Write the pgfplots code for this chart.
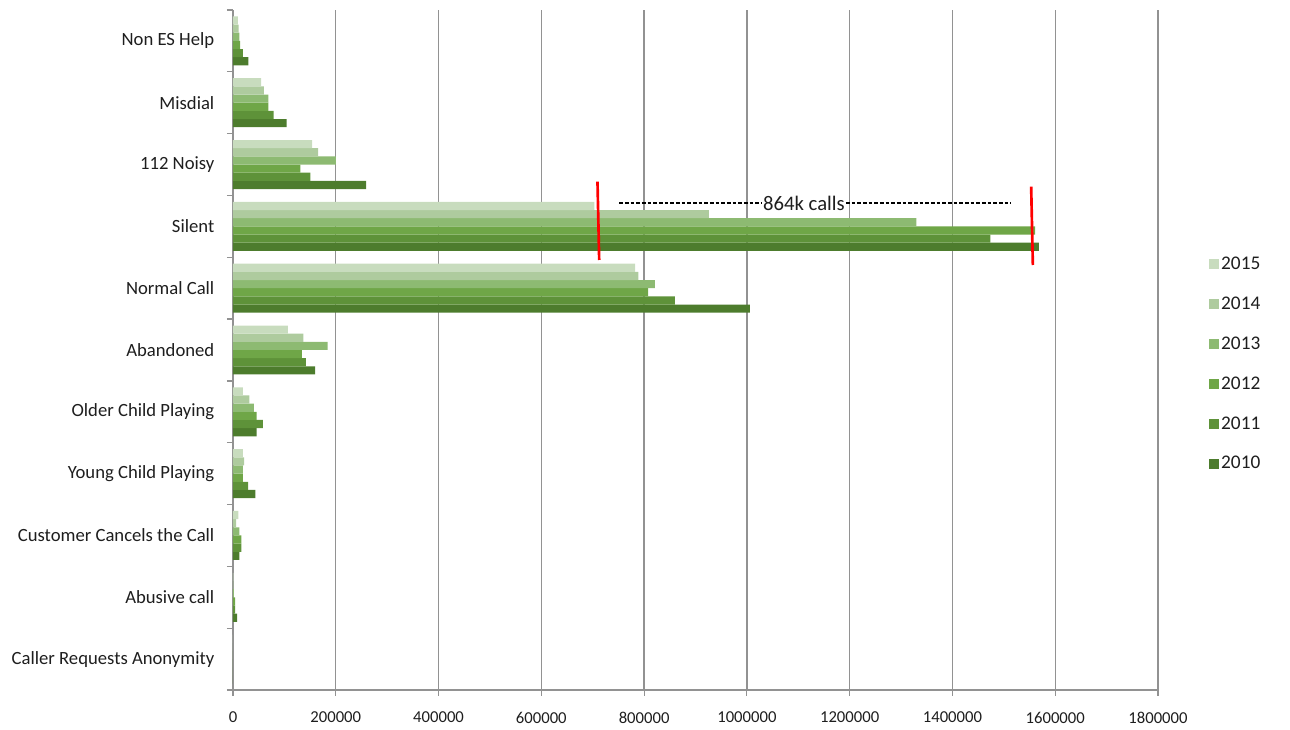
\documentclass[border=0pt]{standalone}
\usepackage{fontspec}
\setmainfont{Carlito}
\usepackage{pgfplots}
\pgfplotsset{compat=1.18}
\definecolor{c2015}{HTML}{C8DCBE}
\definecolor{c2014}{HTML}{AECB9E}
\definecolor{c2013}{HTML}{8DBA72}
\definecolor{c2012}{HTML}{6FA647}
\definecolor{c2011}{HTML}{5E9239}
\definecolor{c2010}{HTML}{4D7C2D}
\definecolor{gridgray}{HTML}{929292}
\definecolor{txt}{HTML}{1E1E1E}
\begin{document}
\begin{tikzpicture}
\useasboundingbox (-174.75pt,-29.25pt) rectangle (792.75pt,517.5pt);
\begin{axis}[
  at={(0pt,0pt)}, anchor=south west,
  scale only axis, width=693.75pt, height=510pt,
  xbar, bar width=0.132,
  legend image code/.code={\fill[#1] (0pt,-3.75pt) rectangle (7.5pt,3.75pt);},
  xmin=0, xmax=1800000, ymin=-0.5, ymax=10.5,
  xtick={0,200000,400000,600000,800000,1000000,1200000,1400000,1600000,1800000},
  scaled x ticks=false,
  xticklabel style={/pgf/number format/fixed, /pgf/number format/1000 sep={}, /pgf/number format/assume math mode=true, font=\fontsize{12.5}{14}\selectfont, text=txt, yshift=-8.5pt},
  ytick={0,...,10},
  yticklabels={Caller Requests Anonymity, Abusive call, Customer Cancels the Call, Young Child Playing, Older Child Playing, Abandoned, Normal Call, Silent, 112 Noisy, Misdial, Non ES Help},
  yticklabel style={font=\fontsize{14}{16}\selectfont, text=txt, xshift=-6pt},
  minor ytick={-0.5,0.5,1.5,2.5,3.5,4.5,5.5,6.5,7.5,8.5,9.5,10.5},
  major y tick style={draw=none},
  minor y tick style={gridgray, line width=0.9pt},
  major x tick style={gridgray, line width=0.9pt},
  major tick length=4.5pt, minor tick length=4.5pt,
  tick align=outside,
  axis x line*=bottom, axis y line*=left,
  axis line style={gridgray, line width=0.9pt},
  xmajorgrids, major x grid style={gridgray, line width=1pt},
  legend style={at={(1.05,0.645)}, anchor=north west, draw=none, fill=none,
    font=\fontsize{14.5}{16}\selectfont, text=txt, row sep=15pt},
  legend cell align=left,
  reverse legend,
]
\addplot[fill=c2010, draw=none, bar shift=-0.33] coordinates {
 (0,0) (8000,1) (12600,2) (43700,3) (46000,4) (160000,5) (1006000,6) (1568000,7) (259000,8) (104600,9) (30000,10)};
\addplot[fill=c2011, draw=none, bar shift=-0.198] coordinates {
 (0,0) (4000,1) (16500,2) (29500,3) (58000,4) (142000,5) (860000,6) (1474000,7) (150700,8) (79000,9) (19000,10)};
\addplot[fill=c2012, draw=none, bar shift=-0.066] coordinates {
 (0,0) (4000,1) (16500,2) (19000,3) (46000,4) (134000,5) (808000,6) (1561000,7) (131000,8) (69000,9) (14000,10)};
\addplot[fill=c2013, draw=none, bar shift=0.066] coordinates {
 (0,0) (1500,1) (12600,2) (19000,3) (40500,4) (184000,5) (821000,6) (1330000,7) (200000,8) (69000,9) (12600,10)};
\addplot[fill=c2014, draw=none, bar shift=0.198] coordinates {
 (0,0) (500,1) (6000,2) (21600,3) (32000,4) (137000,5) (789000,6) (926000,7) (165600,8) (60000,9) (11000,10)};
\addplot[fill=c2015, draw=none, bar shift=0.33] coordinates {
 (0,0) (500,1) (10700,2) (19000,3) (19000,4) (106600,5) (782500,6) (703000,7) (154000,8) (54800,9) (9300,10)};
\legend{2010,2011,2012,2013,2014,2015}
\draw[black, line width=0.8pt, dash pattern=on 2.75pt off 1.5pt] (axis cs:751500,7.378) -- (axis cs:1513700,7.378);
\node[fill=white, inner sep=0.5pt, font=\fontsize{15.5}{17}\selectfont, text=txt] at (axis cs:1111000,7.378) {864k calls};
\draw[red, line width=2pt] (axis cs:709300,7.723) -- (axis cs:712600,6.456);
\draw[red, line width=2pt] (axis cs:1553200,7.642) -- (axis cs:1556500,6.375);
\end{axis}
\end{tikzpicture}
\end{document}
